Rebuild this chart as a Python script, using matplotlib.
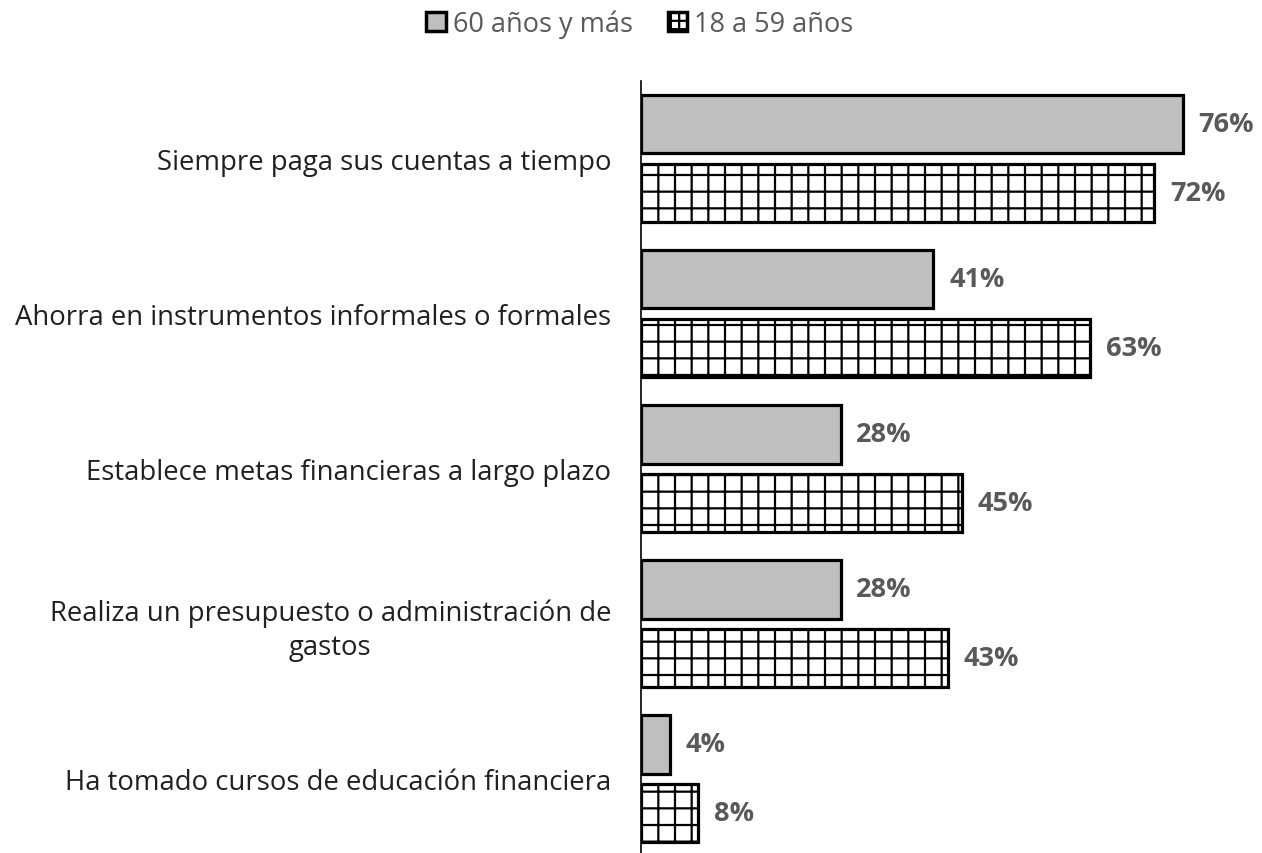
import numpy as np
import matplotlib.pyplot as plt
from matplotlib.patches import Patch

plt.rcParams['font.family'] = ['Open Sans', 'DejaVu Sans']
plt.rcParams['hatch.linewidth'] = 1.6

categories = ['Siempre paga sus cuentas a tiempo',
              'Ahorra en instrumentos informales o formales',
              'Establece metas financieras a largo plazo',
              'Realiza un presupuesto o administración de\ngastos',
              'Ha tomado cursos de educación financiera']
mayores = [76, 41, 28, 28, 4]
jovenes = [72, 63, 45, 43, 8]
series_names = ['60 años y más', '18 a 59 años']

fig = plt.figure(figsize=(12.62, 8.54), dpi=100)
ax = fig.add_axes([641 / 1262, 0, 1 - 641 / 1262, 0.904])

y = np.arange(len(categories))
h = 0.375
off = 0.22
ax.barh(y - off, mayores, height=h, color='#bfbfbf', edgecolor='black',
        linewidth=2.3)
ax.barh(y + off, jovenes, height=h, color='white', edgecolor='black',
        linewidth=2.3, hatch='+')

for yy, v in zip(y - off, mayores):
    ax.text(v + 2.2, yy, f'{v}%', va='center', ha='left', fontsize=19.5,
            fontweight='bold', color='#595959')
for yy, v in zip(y + off, jovenes):
    ax.text(v + 2.2, yy, f'{v}%', va='center', ha='left', fontsize=19.5,
            fontweight='bold', color='#595959')

ax.set_xlim(0, 87.1)
ax.set_ylim(4.48, -0.5)
ax.set_yticks(y)
ax.set_yticklabels(categories, fontsize=19.8, color='#202020',
                   multialignment='center', linespacing=1.25)
ax.tick_params(axis='y', length=0, pad=21.5)
ax.set_xticks([])
for s in ['top', 'right', 'bottom']:
    ax.spines[s].set_visible(False)
ax.spines['left'].set_linewidth(1.2)

handles = [Patch(facecolor='#bfbfbf', edgecolor='black', linewidth=2.5),
           Patch(facecolor='white', edgecolor='black', linewidth=2.5, hatch='++')]
leg = fig.legend(handles, series_names, loc='center', bbox_to_anchor=(0.507, 0.971),
                 ncol=2, frameon=False, fontsize=19.5, handlelength=0.72,
                 handleheight=0.72, handletextpad=0.25, columnspacing=1.3)
for t in leg.get_texts():
    t.set_color('#595959')

fig.savefig('out.png', dpi=100)
